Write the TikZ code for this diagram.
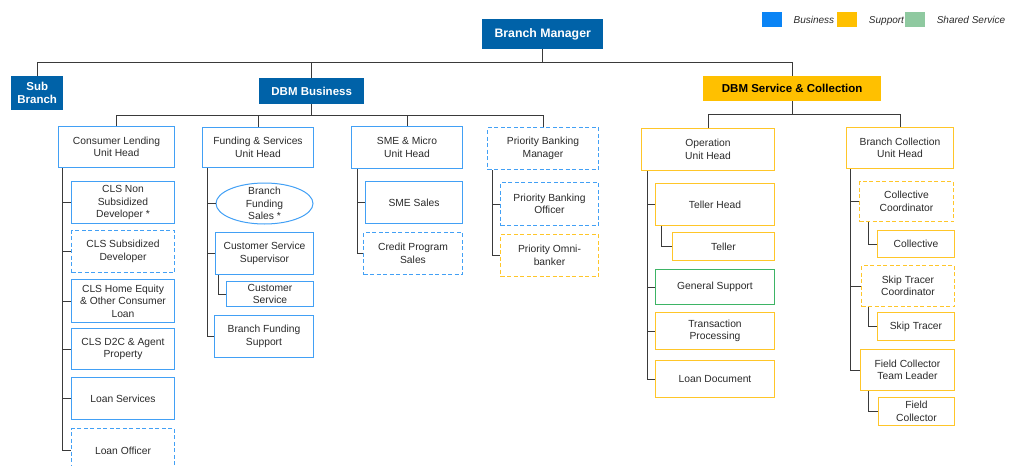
\documentclass[tikz,border=0pt]{standalone}
\usepackage{fontspec}
\setmainfont{Liberation Sans}
\usepackage{tikz}
\usetikzlibrary{positioning,shapes.geometric}

\definecolor{headblue}{HTML}{0062A8}
\definecolor{bizline}{HTML}{42A0F5}
\definecolor{supline}{HTML}{FFC629}
\definecolor{supfill}{HTML}{FFC000}
\definecolor{shrline}{HTML}{3DB465}
\definecolor{keyblue}{HTML}{0A84F5}
\definecolor{keygreen}{HTML}{8FC9A0}
\definecolor{wirec}{HTML}{3A3A3A}
\definecolor{txt}{HTML}{2A2A2A}

\newcommand{\unitfont}{\fontsize{10.3}{12.6}\selectfont}
\newcommand{\headfont}{\fontsize{11.5}{13}\selectfont\bfseries}

\tikzset{
	head/.style={fill=headblue, text=white, font=\headfont, align=center, anchor=north west, inner sep=1pt},
	biz/.style={draw=bizline, line width=1pt, text=txt, font=\unitfont, align=center, anchor=north west, inner sep=2pt},
	sup/.style={biz, draw=supline},
	shr/.style={biz, draw=shrline},
	tbc/.style={dash pattern=on 4pt off 2.5pt},
	sz/.style 2 args={minimum width=#1pt, minimum height=#2pt},
	wire/.style={draw=wirec, line width=0.9pt},
	key/.style={minimum width=20pt, minimum height=15pt, inner sep=0pt, anchor=north west},
	keytext/.style={font=\fontsize{10}{12}\selectfont\itshape, text=txt, inner sep=0pt, text height=7.5pt, text depth=0pt},
}

\begin{document}
\begin{tikzpicture}[x=1pt, y=-1pt]
	\useasboundingbox (0,0) rectangle (1013,466);
	\clip (0,0) rectangle (1013,466);

	% legend
	\node[key, fill=keyblue] (kbiz) at (762,12) {};
	\node[keytext, right=11pt of kbiz] (tbiz) {Business};
	\node[key, fill=supfill, anchor=west, right=2pt of tbiz] (ksup) {};
	\node[keytext, right=12pt of ksup] (tsup) {Support};
	\node[key, fill=keygreen, anchor=west, right=1pt of tsup] (kshr) {};
	\node[keytext, right=11pt of kshr] (tshr) {Shared Service};

	% top levels
	\node[head, sz={121}{30}, font=\fontsize{12.3}{14}\selectfont\bfseries] (bm) at (482,19) {Branch Manager};
	\node[head, sz={52}{34}] (sub) at (11,76) {Sub\\Branch};
	\node[head, sz={105}{26}] (dbm) at (259,78) {DBM Business};
	\node[head, sz={178}{25}, fill=supfill, text=black] (dsc) at (703,76) {DBM Service \& Collection};

	\node[biz, sz={116}{41}] (clu) at (58,126) {Consumer Lending\\Unit Head};
	\node[biz, sz={111}{40}] (fsu) at (202,127) {Funding \& Services\\Unit Head};
	\node[biz, sz={111}{42}] (sme) at (351,126) {SME \& Micro\\Unit Head};
	\node[biz, tbc, sz={111}{42}] (pbm) at (487,127) {Priority Banking\\Manager};
	\node[sup, sz={133}{42}] (opu) at (641,128) {Operation\\Unit Head};
	\node[sup, sz={107}{41}] (bcu) at (846,127) {Branch Collection\\Unit Head};

	% consumer lending
	\node[biz, sz={103}{42}] (c1) at (71,181) {CLS Non\\Subsidized\\Developer *};
	\node[biz, tbc, sz={103}{42}] (c2) at (71,230) {CLS Subsidized\\Developer};
	\node[biz, sz={103}{43}] (c3) at (71,279) {CLS Home Equity\\\& Other Consumer\\Loan};
	\node[biz, sz={103}{41}] (c4) at (71,328) {CLS D2C \& Agent\\Property};
	\node[biz, sz={103}{42}] (c5) at (71,377) {Loan Services};
	\node[biz, tbc, sz={103}{44}] (c6) at (71,428) {Loan Officer};

	% funding & services
	\node[biz, ellipse, sz={97}{41}, inner xsep=4pt, inner ysep=-4pt, anchor=center] (f1) at (264.5,203.5) {Branch\\Funding\\Sales *};
	\node[biz, sz={98}{42}] (f2) at (215,232) {Customer Service\\Supervisor};
	\node[biz, sz={87}{25}, inner ysep=1pt] (f3) at (226,281) {Customer\\Service};
	\node[biz, sz={99}{42}] (f4) at (214,315) {Branch Funding\\Support};

	% sme & priority
	\node[biz, sz={97}{42}] (s1) at (365,181) {SME Sales};
	\node[biz, tbc, sz={99}{42}] (s2) at (363,232) {Credit Program\\Sales};
	\node[biz, tbc, sz={98}{43}] (p1) at (500,182) {Priority Banking\\Officer};
	\node[sup, tbc, sz={98}{42}] (p2) at (500,234) {Priority Omni-\\banker};

	% operation
	\node[sup, sz={119}{42}] (o1) at (655,183) {Teller Head};
	\node[sup, sz={102}{28}] (o2) at (672,232) {Teller};
	\node[shr, sz={119}{35}] (o3) at (655,269) {General Support};
	\node[sup, sz={119}{37}] (o4) at (655,312) {Transaction\\Processing};
	\node[sup, sz={119}{37}] (o5) at (655,360) {Loan Document};

	% collection
	\node[sup, tbc, sz={94}{40}] (k1) at (859,181) {Collective\\Coordinator};
	\node[sup, sz={77}{27}] (k2) at (877,230) {Collective};
	\node[sup, tbc, sz={93}{41}] (k3) at (861,265) {Skip Tracer\\Coordinator};
	\node[sup, sz={77}{28}] (k4) at (877,312) {Skip Tracer};
	\node[sup, sz={94}{41}] (k5) at (860,349) {Field Collector\\Team Leader};
	\node[sup, sz={76}{28}, inner ysep=1pt] (k6) at (878,397) {Field\\Collector};

	% connectors
	\draw[wire] (bm.south) -- ++(0,13) coordinate (bus);
	\draw[wire] (sub.north) |- (bus) -| (dsc.north);
	\draw[wire] (dbm.north) -- (dbm.north |- bus);

	\draw[wire] (dbm.south) -- ++(0,11) coordinate (bbus);
	\draw[wire] (clu.north) |- (bbus) -| (pbm.north);
	\draw[wire] (fsu.north) -- (fsu.north |- bbus);
	\draw[wire] (sme.north) -- (sme.north |- bbus);

	\draw[wire] (dsc.south) -- ++(0,13) coordinate (sbus);
	\draw[wire] (opu.north) |- (sbus) -| (bcu.north);

	\foreach \k in {c1,c2,c3,c4,c5,c6}
		\draw[wire] ([xshift=4pt]clu.south west) |- (\k.west);
	\foreach \k in {f1,f2,f4}
		\draw[wire] ([xshift=5pt]fsu.south west) |- (\k.west);
	\draw[wire] ([xshift=3pt]f2.south west) |- (f3.west);
	\foreach \k in {s1,s2}
		\draw[wire] ([xshift=6pt]sme.south west) |- (\k.west);
	\foreach \k in {p1,p2}
		\draw[wire] ([xshift=5pt]pbm.south west) |- (\k.west);

	\foreach \k in {o1,o3,o4,o5}
		\draw[wire] ([xshift=6pt]opu.south west) |- (\k.west);
	\draw[wire] ([xshift=6pt]o1.south west) |- (o2.west);
	\foreach \k in {k1,k3,k5}
		\draw[wire] ([xshift=4pt]bcu.south west) |- (\k.west);
	\draw[wire] ([xshift=9pt]k1.south west) |- (k2.west);
	\draw[wire] ([xshift=7pt]k3.south west) |- (k4.west);
	\draw[wire] ([xshift=8pt]k5.south west) |- (k6.west);
\end{tikzpicture}
\end{document}
